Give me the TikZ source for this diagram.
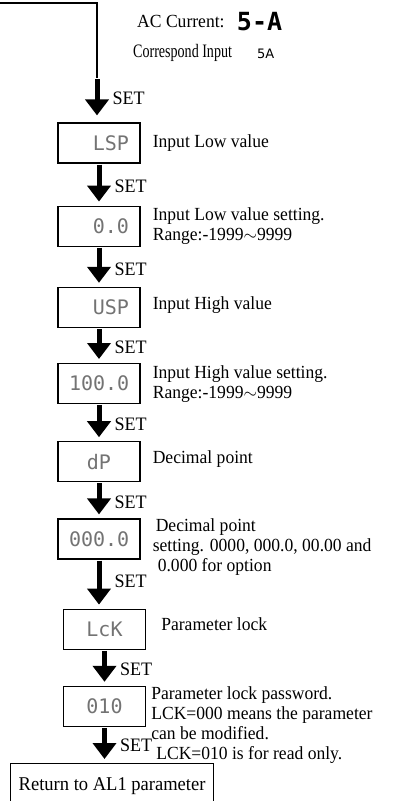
\documentclass[tikz,border=0pt]{standalone}
\usepackage{fontspec}
\setmainfont{Liberation Serif}[FakeStretch=0.95]
\newfontfamily\condfont{Liberation Serif}[FakeStretch=0.74]
\newfontfamily\lcdfont{DejaVu Sans Mono}
\newfontfamily\smallsans{DejaVu Sans}
\usetikzlibrary{positioning,arrows.meta}

\begin{document}
\begin{tikzpicture}[
    x=1pt, y=-1pt,
    node distance=38pt and 12pt,
    lcd/.style={draw, line width=1.2pt, minimum height=40pt, text width=60pt, inner xsep=11pt, align=right,
                font=\lcdfont\fontsize{20}{20}\selectfont, text=black!55},
    note/.style={inner sep=0pt, align=left, anchor=west, font=\fontsize{18.5}{20}\selectfont},
    setarr/.style={-{Triangle[width=23pt,length=16pt]}, line width=5pt, shorten <=1pt, shorten >=4pt},
    setlbl/.style={pos=0.55, anchor=west, xshift=13pt, inner sep=0pt, font=\fontsize{19}{19}\selectfont}
]
\useasboundingbox (0,0) rectangle (401,801);

% header
\node[note] (actxt) at (137,22) {AC Current:};
\node[right=12pt of actxt, inner sep=0pt, font=\lcdfont\bfseries\fontsize{25}{25}\selectfont] (acval) {5-A};
\node[inner sep=0pt, anchor=west, font=\condfont\fontsize{19}{19}\selectfont] (cortxt) at (133,53) {Correspond Input};
\node[inner sep=0pt, anchor=west, font=\smallsans\fontsize{13}{13}\selectfont] (corval) at (257,54) {5A};

% display boxes
\node[lcd] (lsp) at (99,143) {LSP};
\node[lcd, below=42pt of lsp] (lowval) {0.0};
\node[lcd, below=40pt of lowval] (usp) {USP};
\node[lcd, below=35pt of usp] (hival) {100.0};
\node[lcd, below=37pt of hival, align=center] (dp) {dP};
\node[lcd, below=36pt of dp] (dpval) {000.0};
\node[lcd, below=49pt of dpval, xshift=5.5pt, align=center] (lck) {LcK};
\node[lcd, below=36pt of lck, align=center] (pw) {010};
\node[draw, line width=1.2pt, minimum width=203pt, minimum height=46pt, anchor=north west,
      font=\fontsize{19.5}{20}\selectfont] (ret) at (10,763) {Return to AL1 parameter};

% notes
\node[note, right=12pt of lsp] (lsptxt) {Input Low value};
\node[note, right=12pt of lowval.north east, anchor=north west, yshift=-2pt] (lowtxt)
    {Input Low value setting.\\Range:-1999$\sim$9999};
\node[note, right=12pt of usp, yshift=2pt] (usptxt) {Input High value};
\node[note, right=12pt of hival.north east, anchor=north west, yshift=-2pt] (hitxt)
    {Input High value setting.\\Range:-1999$\sim$9999};
\node[note, right=12pt of dp, yshift=3pt] (dptxt) {Decimal point};
\node[note, right=12pt of dpval.north east, anchor=north west, yshift=0pt] (dpvtxt)
    {\hspace{3pt}Decimal point\\setting. 0000, 000.0, 00.00 and\\\hspace{5pt}0.000 for option};
\node[note, right=15pt of lck, yshift=5pt] (lcktxt) {Parameter lock};
\node[note, right=5pt of pw.north east, anchor=north west, yshift=-1pt] (pwtxt)
    {Parameter lock password.\\LCK=000 means the parameter\\can be modified.\\\hspace{5pt}LCK=010 is for read only.};

% flow
\coordinate (start) at (0,3);
\coordinate (bend) at (97,78);
\draw[line width=1.3pt] (start) -| (bend);
\draw[setarr, shorten >=7pt] (bend) -- (bend |- lsp.north) node[setlbl, pos=0.45] {SET};
\draw[setarr] (lsp) -- (lowval) node[setlbl] {SET};
\draw[setarr] (lowval) -- (usp) node[setlbl] {SET};
\draw[setarr] (usp) -- (hival) node[setlbl] {SET};
\draw[setarr] (hival) -- (dp) node[setlbl] {SET};
\draw[setarr] (dp) -- (dpval) node[setlbl] {SET};
\draw[setarr] (dpval.south) -- (dpval.south |- lck.north) node[setlbl, pos=0.45] {SET};
\draw[setarr] (lck) -- (pw) node[setlbl] {SET};
\draw[setarr] (pw.south) -- (pw.south |- ret.north) node[setlbl, pos=0.5] {SET};
\end{tikzpicture}
\end{document}
